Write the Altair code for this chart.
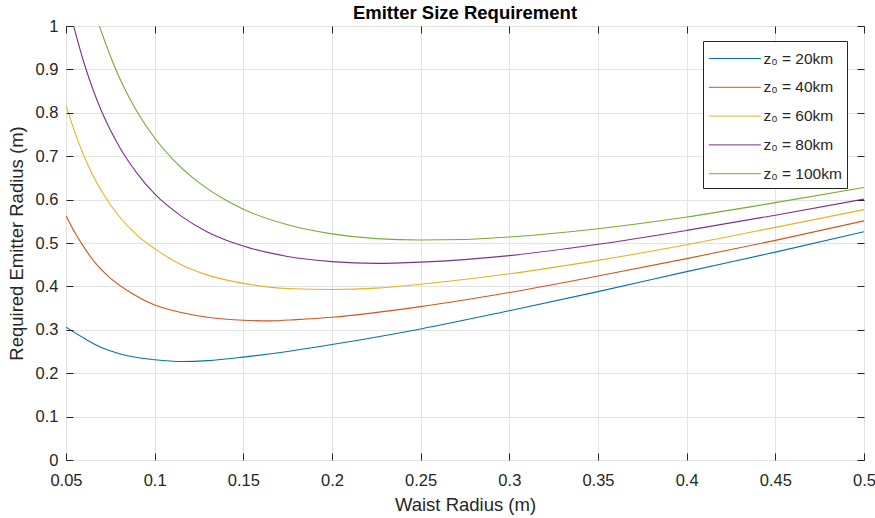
import altair as alt
import pandas as pd

FONT = "Liberation Sans"
AX = "#262626"

series_names = ["z₀ = 20km", "z₀ = 40km", "z₀ = 60km", "z₀ = 80km", "z₀ = 100km"]
colors = ["#0072BD", "#D95319", "#EDB120", "#7E2F8E", "#77AC30"]

x20 = [0.05, 0.06, 0.07, 0.08, 0.09, 0.1, 0.115, 0.13, 0.15, 0.175, 0.2, 0.25, 0.3, 0.35, 0.4, 0.45, 0.5]
y20 = [0.306, 0.281, 0.259, 0.245, 0.236, 0.231, 0.227, 0.229, 0.237, 0.250, 0.266, 0.302, 0.344, 0.388, 0.434, 0.479, 0.526]

x40 = [0.05, 0.055, 0.06, 0.0665, 0.075, 0.0875, 0.1, 0.115, 0.13, 0.15, 0.165, 0.18, 0.2, 0.25, 0.3, 0.35, 0.4, 0.45, 0.5]
y40 = [0.563, 0.524, 0.491, 0.454, 0.419, 0.383, 0.357, 0.340, 0.329, 0.322, 0.3205, 0.3235, 0.329, 0.3535, 0.386, 0.424, 0.464, 0.506, 0.551]

x60 = [0.05, 0.055, 0.06, 0.065, 0.07, 0.08, 0.09, 0.1, 0.115, 0.13, 0.15, 0.175, 0.2, 0.225, 0.25, 0.3, 0.35, 0.4, 0.45, 0.5]
y60 = [0.818, 0.755, 0.702, 0.657, 0.620, 0.561, 0.518, 0.487, 0.450, 0.426, 0.407, 0.395, 0.393, 0.396, 0.405, 0.429, 0.460, 0.496, 0.536, 0.577]

x80 = [0.0543, 0.06, 0.065, 0.07, 0.08, 0.09, 0.1, 0.115, 0.13, 0.15, 0.175, 0.2, 0.225, 0.25, 0.3, 0.35, 0.4, 0.45, 0.5]
y80 = [1.0, 0.917, 0.856, 0.804, 0.7225, 0.661, 0.613, 0.562, 0.525, 0.493, 0.469, 0.457, 0.453, 0.456, 0.471, 0.497, 0.529, 0.564, 0.601]

x100 = [0.0688, 0.075, 0.08, 0.09, 0.1, 0.11, 0.125, 0.14, 0.15, 0.175, 0.2, 0.225, 0.25, 0.275, 0.3, 0.35, 0.4, 0.45, 0.5]
y100 = [1.0, 0.931, 0.882, 0.803, 0.742, 0.694, 0.639, 0.599, 0.578, 0.542, 0.521, 0.510, 0.507, 0.508, 0.514, 0.533, 0.560, 0.593, 0.628]

x_ticks = [0.05, 0.1, 0.15, 0.2, 0.25, 0.3, 0.35, 0.4, 0.45, 0.5]
y_ticks = [0, 0.1, 0.2, 0.3, 0.4, 0.5, 0.6, 0.7, 0.8, 0.9, 1]

frames = []
for name, xs, ys in zip(series_names, [x20, x40, x60, x80, x100], [y20, y40, y60, y80, y100]):
    frames.append(pd.DataFrame({"series": name, "waist": xs, "radius": ys}))
df = pd.concat(frames, ignore_index=True)

TICK = 7
xscale = alt.Scale(domain=[0.05, 0.5], nice=False, zero=False)
yscale = alt.Scale(domain=[0, 1], nice=False, zero=False)

grid_common = dict(grid=True, gridColor="#e3e3e3", gridWidth=1, ticks=False, labels=False,
                   domain=False, title=None)

base = alt.Chart(df)

lines = base.mark_line(strokeWidth=1.1, clip=True, interpolate="monotone").encode(
    x=alt.X("waist:Q", scale=xscale,
            axis=alt.Axis(orient="bottom", values=x_ticks, **grid_common)),
    y=alt.Y("radius:Q", scale=yscale,
            axis=alt.Axis(orient="left", values=y_ticks, **grid_common)),
    color=alt.Color("series:N", sort=series_names,
                    scale=alt.Scale(domain=series_names, range=colors),
                    legend=alt.Legend(title=None, orient="none", legendX=637, legendY=15,
                                      direction="vertical", fillColor="white", strokeColor=AX,
                                      padding=5, symbolType="M-1,0H3.48", symbolSize=538,
                                      symbolStrokeWidth=1, rowPadding=7.8, labelOffset=30.5,
                                      labelFont=FONT, labelFontSize=15.5, labelColor=AX,
                                      symbolOpacity=1)),
)

tick_common = dict(offset=-TICK, tickSize=TICK, tickColor=AX, tickWidth=1, domain=False,
                   grid=False, zindex=1, labelFlush=False)

hidden_bl = base.mark_point(opacity=0, size=1).encode(
    x=alt.X("waist:Q", scale=xscale,
            axis=alt.Axis(orient="bottom", values=x_ticks, format="~g", labelFont=FONT,
                          labelFontSize=16.5, labelColor=AX, labelPadding=12,
                          title="Waist Radius (m)", titleFont=FONT, titleFontSize=18.5,
                          titleFontWeight="normal", titleColor=AX, titlePadding=6.8,
                          **tick_common)),
    y=alt.Y("radius:Q", scale=yscale,
            axis=alt.Axis(orient="left", values=y_ticks, format="~g", labelFont=FONT,
                          labelFontSize=16.5, labelColor=AX, labelPadding=8,
                          title="Required Emitter Radius (m)", titleFont=FONT,
                          titleFontSize=18.5, titleFontWeight="normal", titleColor=AX,
                          titlePadding=9, **tick_common)),
)

hidden_tr = base.mark_point(opacity=0, size=1).encode(
    x=alt.X("waist:Q", scale=xscale,
            axis=alt.Axis(orient="top", values=x_ticks, labels=False, title=None,
                          **tick_common)),
    y=alt.Y("radius:Q", scale=yscale,
            axis=alt.Axis(orient="right", values=y_ticks, labels=False, title=None,
                          **tick_common)),
)

chart = alt.layer(lines, hidden_bl, hidden_tr).resolve_axis(
    x="independent", y="independent"
).properties(
    width=798, height=434,
    title=alt.Title("Emitter Size Requirement", font=FONT, fontSize=18.5, fontWeight="bold",
                    color="black", anchor="middle", frame="group", offset=4, dy=8),
    autosize=alt.AutoSizeParams(type="none"),
    padding={"left": 66, "top": 26, "right": 11, "bottom": 58},
    background="white",
).configure_view(stroke=AX, strokeWidth=1)

chart.save("out.html", embed_options={"renderer": "svg", "actions": False})
